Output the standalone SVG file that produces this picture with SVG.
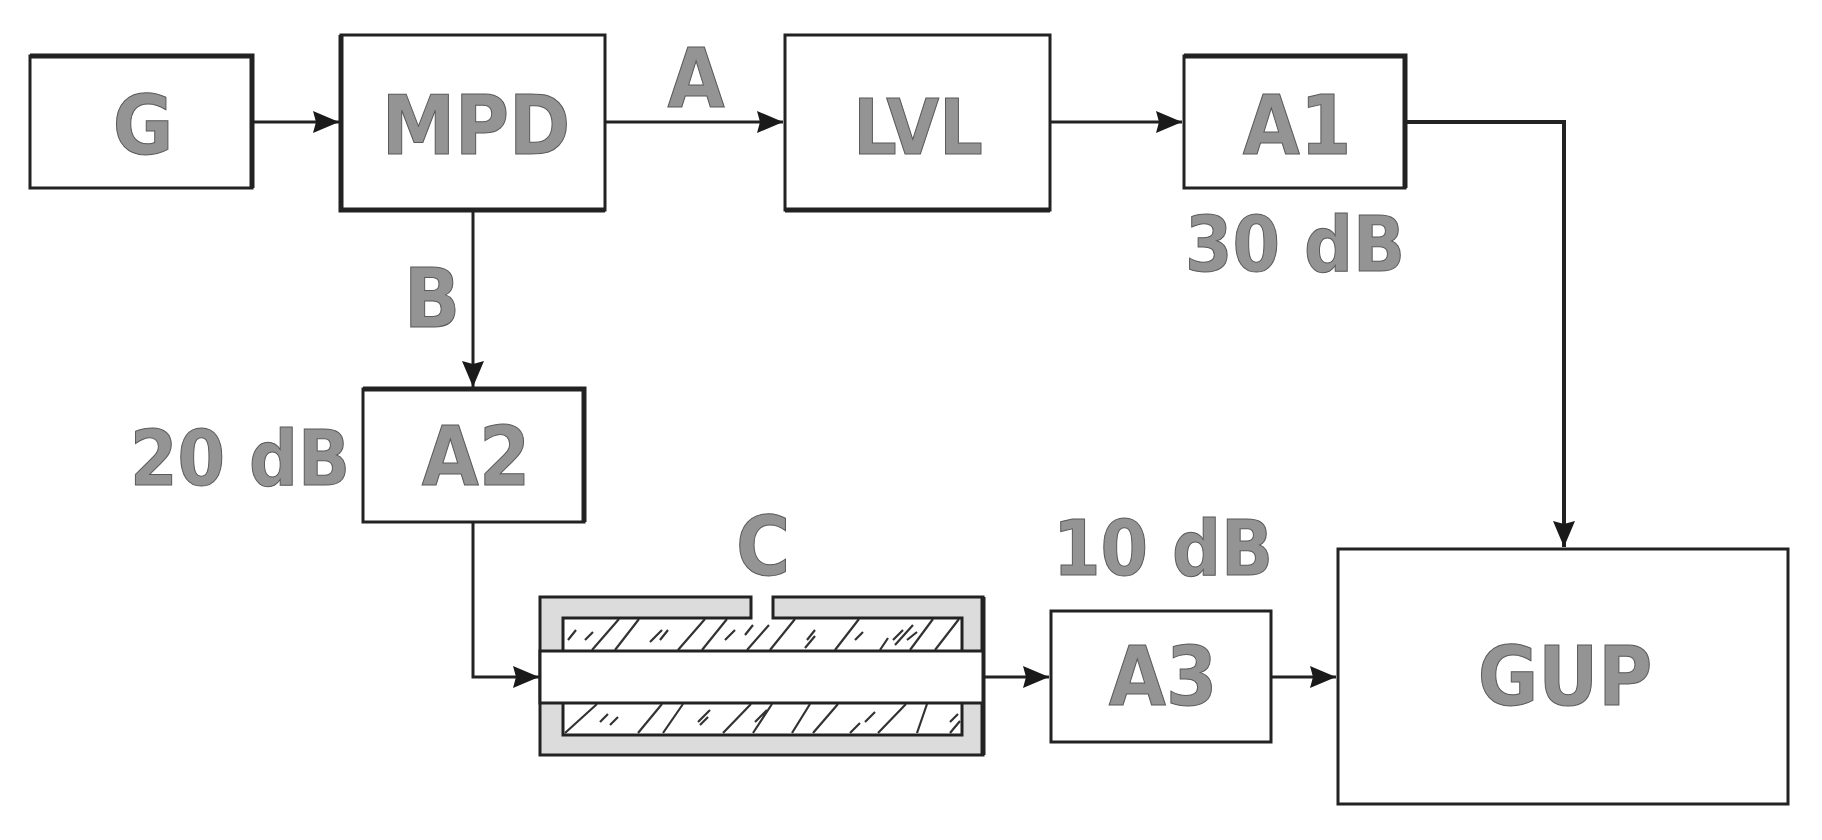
<svg xmlns="http://www.w3.org/2000/svg" width="1822" height="840" viewBox="0 0 1822 840">
<style>
.b{fill:#fff;stroke:#222;stroke-width:3}
.k{fill:none;stroke:#222;stroke-width:5}
.t{font-family:"DejaVu Sans Condensed","DejaVu Sans",sans-serif;font-weight:700;font-size:82px;fill:#949494;stroke:#5a5a5a;stroke-width:1;text-anchor:middle}
.s{font-size:76px}
.c{fill:none;stroke:#222;stroke-width:3}
.h{fill:none;stroke:#333;stroke-width:2.2}
</style>
<defs>
<marker id="a" markerUnits="userSpaceOnUse" markerWidth="28" markerHeight="26" refX="26" refY="13" orient="auto"><path d="M0 2 L26 13 L0 24 L3 13Z" fill="#1a1a1a"/></marker>
</defs>
<rect width="1822" height="840" fill="#fff"/>
<g id="connectors">
<path class="c" d="M252 122H339" marker-end="url(#a)"/>
<path class="c" d="M605 122H783" marker-end="url(#a)"/>
<path class="c" d="M1050 122H1182" marker-end="url(#a)"/>
<path class="c" d="M1405 122H1564V547" marker-end="url(#a)" style="stroke-width:4"/>
<path class="c" d="M473 210V387" marker-end="url(#a)"/>
<path class="c" d="M473 522V677H539" marker-end="url(#a)"/>
<path class="c" d="M984 677H1049" marker-end="url(#a)"/>
<path class="c" d="M1271 677H1336" marker-end="url(#a)"/>
</g>
<g id="G"><rect class="b" x="30" y="56" width="222" height="132"/><path class="k" d="M30 56H252V188"/><text class="t" x="143" y="154">G</text></g>
<g id="MPD"><rect class="b" x="341" y="35" width="264" height="175"/><path class="k" d="M341 35V210H605"/><text class="t" x="476" y="154">MPD</text></g>
<g id="LVL"><rect class="b" x="785" y="35" width="265" height="175"/><path class="k" d="M785 210H1050"/><text class="t" x="918" y="154" style="font-size:76px">LVL</text></g>
<g id="A1"><rect class="b" x="1184" y="56" width="221" height="132"/><path class="k" d="M1184 56H1405V188"/><text class="t" x="1297" y="154">A1</text></g>
<text class="t" x="696" y="107">A</text>
<text class="t s" x="1295" y="271">30 dB</text>
<text class="t" x="432" y="327">B</text>
<g id="A2"><rect class="b" x="363" y="389" width="221" height="133"/><path class="k" d="M363 389H584V522"/><text class="t" x="476" y="485">A2</text></g>
<text class="t s" x="240" y="485">20 dB</text>
<g id="C-device">
<path d="M540 597H751V618H563V651H540ZM773 597H983V755H540V703H563V735H962V618H773Z" fill="#dcdcdc"/>
<rect x="563" y="618" width="399" height="117" fill="#fff"/>
<path class="h" d="M592 650l27-31M615 650l24-31M678 650l27-31M702 650l25-31M747 650l22-25M770 650l25-31M807 640l8-10M835 650l24-31M880 650l8-12M910 650l23-31M935 650l24-31M660 640l8-10M745 635l8-10M895 645l18-20M568 640l8-10M585 640l8-8M650 642l12-12M725 640l10-10M805 648l10-12M855 640l8-8M893 640l10-10M907 640l10-8"/>
<path class="h" d="M565 733l32-29M638 733l24-29M663 733l20-29M723 733l28-29M753 733l19-29M792 733l18-29M813 733l25-29M850 733l10-10M878 733l28-29M917 733l10-29M950 733l10-12M700 725l8-8M610 725l8-8M600 722l8-8M698 722l12-12M755 722l12-12M865 722l10-10M950 722l8-8"/>
<path d="M540 597H751V618H563V735H962V618H773V597H983V755H540Z" fill="none" stroke="#222" stroke-width="3"/>
<path d="M983 597V755" stroke="#222" stroke-width="5"/>
<rect x="540" y="651" width="443" height="52" fill="#fff" stroke="#222" stroke-width="3"/>
</g>
<text class="t" x="763" y="575">C</text>
<text class="t s" x="1163" y="575">10 dB</text>
<g id="A3"><rect class="b" x="1051" y="611" width="220" height="131"/><text class="t" x="1163" y="705">A3</text></g>
<g id="GUP"><rect class="b" x="1338" y="549" width="450" height="255"/><text class="t" x="1565" y="705">GUP</text></g>
</svg>
